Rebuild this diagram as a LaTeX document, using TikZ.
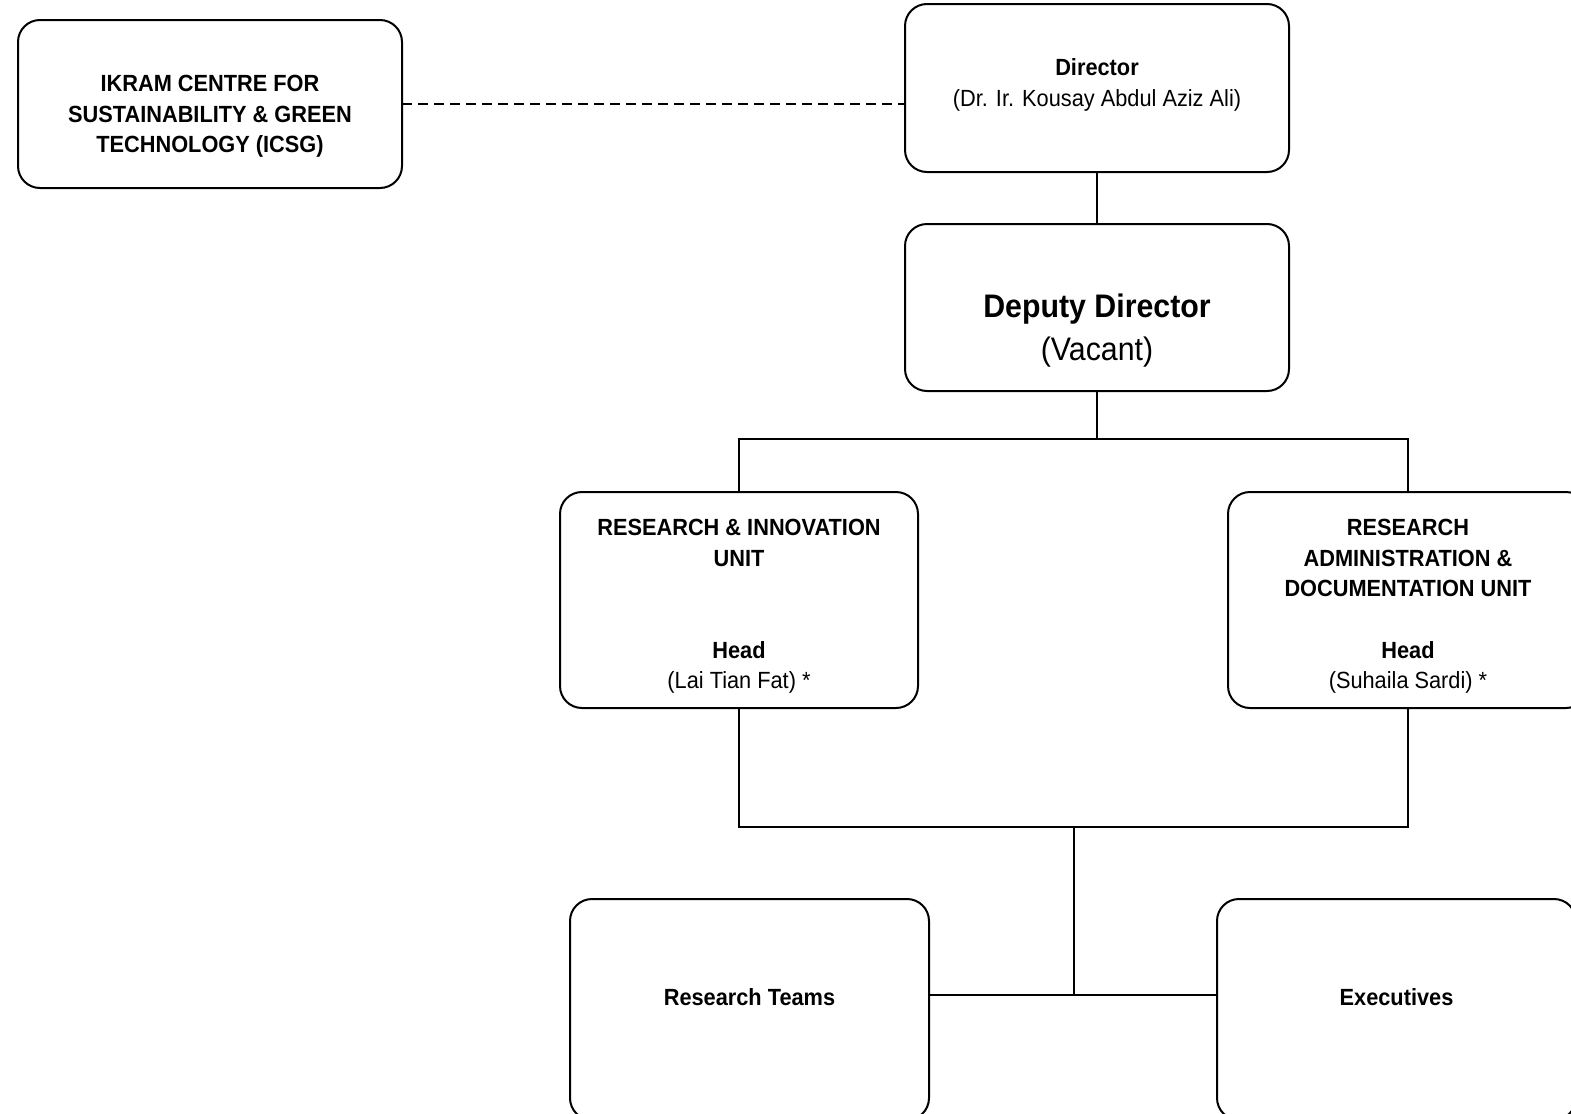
\documentclass[tikz,border=0pt]{standalone}
\usepackage{fontspec}
\setmainfont{Liberation Sans}[FakeStretch=0.93]
\tikzset{
  unitbox/.style = {draw=black, line width=1pt, rounded corners=11pt,
    inner sep=0pt, outer sep=0pt, minimum width=192pt, minimum height=84pt},% rounded box
  txt/.style = {align=center, inner sep=0pt,
    font=\fontsize{11.7pt}{15.3pt}\selectfont},% text in a box
  btxt/.style = {txt, font=\fontsize{11.7pt}{15.3pt}\selectfont\bfseries},% bold text
  bigtxt/.style = {txt, font=\fontsize{16.3pt}{21.5pt}\selectfont},% deputy text
  link/.style = {draw=black, line width=1pt},
  dashlink/.style = {link, dash pattern=on 5pt off 3pt}
}
\begin{document}
\begin{tikzpicture}[x=0.5pt, y=-0.5pt]
\useasboundingbox (0,0) rectangle (1571,1114);
% boxes
\node[unitbox] (icsg) at (210,104) {};
\node[unitbox] (dir) at (1097,88) {};
\node[unitbox, minimum height=83.5pt] (dep) at (1097,307.5) {};
\node[unitbox, minimum width=179pt, minimum height=108pt] (riu) at (739,600) {};
\node[unitbox, minimum width=180pt, minimum height=108pt] (rau) at (1408,600) {};
\node[unitbox, minimum width=179.5pt, minimum height=110.5pt] (teams) at (749.5,1009.5) {};
\node[unitbox, minimum width=179.5pt, minimum height=110.5pt] (exec) at (1396.5,1009.5) {};
% texts
\node[btxt] (icsg-t) at (210,116.5) {IKRAM CENTRE FOR\\SUSTAINABILITY \& GREEN\\TECHNOLOGY (ICSG)};
\node[txt] (dir-t) at (1097,85) {\textbf{Director}\\(Dr. Ir. Kousay Abdul Aziz Ali)};
\node[bigtxt] (dep-t) at (1097,330.5) {\textbf{Deputy Director}\\(Vacant)};
\node[txt] (riu-t) at (739,606.5) {\textbf{RESEARCH \& INNOVATION}\\\textbf{UNIT}\\[30.6pt]\textbf{Head}\\(Lai Tian Fat) *};
\node[txt] (rau-t) at (1408,606.5) {\textbf{RESEARCH}\\\textbf{ADMINISTRATION \&}\\\textbf{DOCUMENTATION UNIT}\\[15.3pt]\textbf{Head}\\(Suhaila Sardi) *};
\node[btxt] (teams-t) at (749.5,997.5) {Research Teams};
\node[btxt] (exec-t) at (1396.5,997.5) {Executives};
% connectors
\coordinate (split) at (1097,439);
\coordinate (join) at (1074,827);
\coordinate (meet) at (1074,995);
\draw[dashlink] (icsg.east) -- (icsg.east -| dir.west);
\draw[link] (dir) -- (dep);
\draw[link] (dep) -- (split);
\draw[link] (riu.north) |- (split) -| (rau.north);
\draw[link] (riu.south) |- (join) -| (rau.south);
\draw[link] (join) -- (meet);
\draw[link] (teams.east |- meet) -- (exec.west |- meet);
\end{tikzpicture}
\end{document}
